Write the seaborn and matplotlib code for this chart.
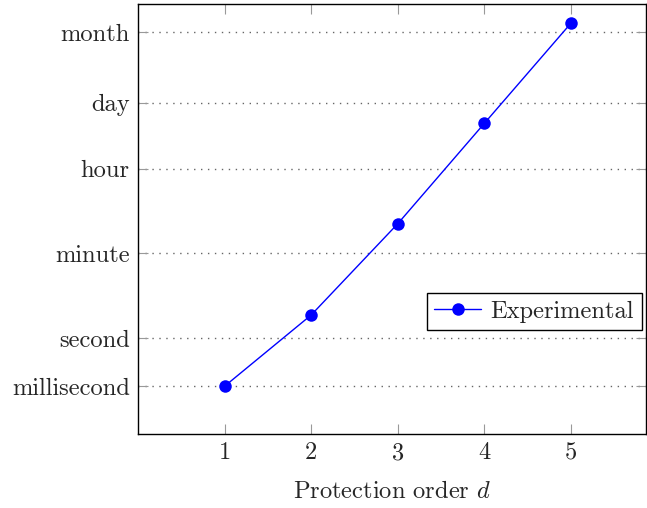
import matplotlib
matplotlib.use("Agg")
import matplotlib.pyplot as plt
import seaborn as sns
import pandas as pd

# protection order vs. attack time (seconds, log scale)
orders = [1, 2, 3, 4, 5]
times = [0.1, 3.1, 253, 3.2e4, 4.0e6]

tick_vals = [0.1, 1, 60, 3600, 86400, 2592000]
tick_labels = ["millisecond", "second", "minute", "hour", "day", "month"]

sns.set_style("ticks")
plt.rcParams['font.family'] = ['cmr10', 'DejaVu Serif']
plt.rcParams['mathtext.fontset'] = 'cm'
plt.rcParams['axes.formatter.use_mathtext'] = True

df = pd.DataFrame({"order": orders, "time": times, "series": "Experimental"})

fig = plt.figure(figsize=(6.47, 5.08), dpi=100)
ax = fig.add_axes([0.2133, 0.1457, 0.7845, 0.8464])

sns.lineplot(data=df, x="order", y="time", hue="series", palette=["#0000ff"],
             marker="o", markersize=9, markeredgewidth=0, linewidth=1.0, ax=ax)

ax.set_yscale("log")
ax.set_xlim(0, 5.86)
ax.set_ylim(1e-2, 1e7)
ax.set_xticks(orders)
ax.set_xticklabels([str(o) for o in orders])
ax.set_yticks(tick_vals)
ax.set_yticklabels(tick_labels)
ax.yaxis.set_minor_locator(matplotlib.ticker.NullLocator())

for y in tick_vals:
    ax.axhline(y, color="#666666", linestyle=(0, (1, 4)), linewidth=1.0, zorder=0)

ax.tick_params(axis="both", which="major", direction="in", length=7.5, width=0.8,
               color="#999999", labelsize=17.6, pad=6, top=True, right=True)
for s in ax.spines.values():
    s.set_color("black")
    s.set_linewidth(1.0)

ax.set_xlabel("Protection order $d$", fontsize=17.6, labelpad=12)
ax.set_ylabel("")

leg = ax.legend(loc="center right", bbox_to_anchor=(0.992, 0.284), fontsize=17.6,
                frameon=True, fancybox=False, framealpha=1, edgecolor="black",
                handlelength=1.9, borderpad=0.3, handletextpad=0.4, borderaxespad=0)
leg.get_frame().set_linewidth(1.0)

fig.savefig("out.png", dpi=100)
